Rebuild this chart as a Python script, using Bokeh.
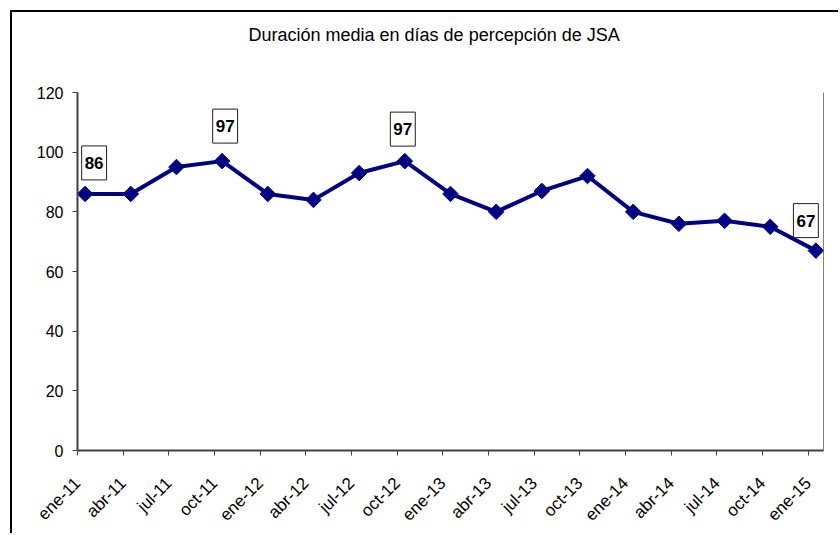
import math
from bokeh.plotting import figure
from bokeh.models import Range1d, FixedTicker, Label, ColumnDataSource, LinearAxis
from bokeh.embed import file_html
from bokeh.resources import INLINE

# ---- data ----
categories = ["ene-11", "abr-11", "jul-11", "oct-11", "ene-12", "abr-12", "jul-12",
              "oct-12", "ene-13", "abr-13", "jul-13", "oct-13", "ene-14", "abr-14",
              "jul-14", "oct-14", "ene-15"]
values = [86, 86, 95, 97, 86, 84, 93, 97, 86, 80, 87, 92, 80, 76, 77, 75, 67]
labelled = [0, 3, 7, 16]          # indices of points with a data label
y_ticks = [0, 20, 40, 60, 80, 100, 120]
title_text = "Duración media en días de percepción de JSA"

# styles for the data labels (screen offsets)
label_dx = [9, 3, -2, -10]
label_dy = [14, 18, 15, 13]

# quarterly points on a monthly date axis: point sits in the middle of its month
months_per_step = 3
xs = [i * months_per_step + 0.5 for i in range(len(categories))]
tick_pos = [i * months_per_step for i in range(len(categories))]
x_end = tick_pos[-1] + 1

FONT = "Liberation Sans"

p = figure(width=828, height=523, output_backend="svg", toolbar_location=None,
           x_range=Range1d(0, x_end), y_range=Range1d(0, 120),
           min_border_left=65, min_border_right=17, min_border_top=80, min_border_bottom=85,
           background_fill_color="white", border_fill_color="white")
p.styles = {"border-top": "2px solid black", "border-left": "2px solid black",
            "margin-left": "10px", "margin-top": "10px"}

# blank spacer axis between the frame and the title
spacer = LinearAxis(ticker=FixedTicker(ticks=[0]), axis_line_color="white",
                    major_tick_line_color="white", major_tick_out=46, major_tick_in=0,
                    minor_tick_line_color=None, major_label_standoff=0,
                    major_label_overrides={0: ""}, major_label_text_font_size="1px")
p.add_layout(spacer, "above")

p.title.text = title_text
p.title.align = "left"
p.title.offset = 171
p.title.standoff = 4
p.title.text_font = FONT
p.title.text_font_size = "18px"
p.title.text_font_style = "normal"
p.title.text_color = "black"

p.outline_line_color = "#808080"
p.outline_line_width = 1
p.xgrid.visible = False
p.ygrid.visible = False

yax = p.left[0]
xax = p.below[0]
for ax in (xax, yax):
    ax.axis_line_color = "#404040"
    ax.axis_line_width = 2
    ax.major_tick_line_color = "#404040"
    ax.major_tick_line_width = 1
    ax.major_tick_out = 5
    ax.major_tick_in = 0
    ax.minor_tick_line_color = None
    ax.major_label_text_font = FONT
    ax.major_label_text_font_size = "16px"
    ax.major_label_text_color = "black"

yax.ticker = FixedTicker(ticks=y_ticks)
yax.major_label_standoff = 9
xax.ticker = FixedTicker(ticks=tick_pos)
xax.major_label_overrides = {t: c for t, c in zip(tick_pos, categories)}
xax.major_label_orientation = math.pi / 4
xax.major_label_text_font_size = "17px"
xax.major_label_standoff = 25

src = ColumnDataSource(dict(x=xs, y=values))
p.line("x", "y", source=src, line_color="#000080", line_width=4)
p.scatter("x", "y", source=src, marker="square", angle=math.pi / 4, size=11,
          fill_color="#000080", line_color="#000080")

for k, i in enumerate(labelled):
    p.add_layout(Label(x=xs[i], y=values[i], text=str(values[i]),
                       x_offset=label_dx[k], y_offset=label_dy[k],
                       anchor="bottom_center",
                       text_font=FONT, text_font_size="17px", text_font_style="bold",
                       text_color="black",
                       background_fill_color="white", border_line_color="#202020",
                       border_line_width=1,
                       padding=dict(left=3, right=3, top=11, bottom=11)))

open("out.html", "w").write(file_html(p, INLINE))
